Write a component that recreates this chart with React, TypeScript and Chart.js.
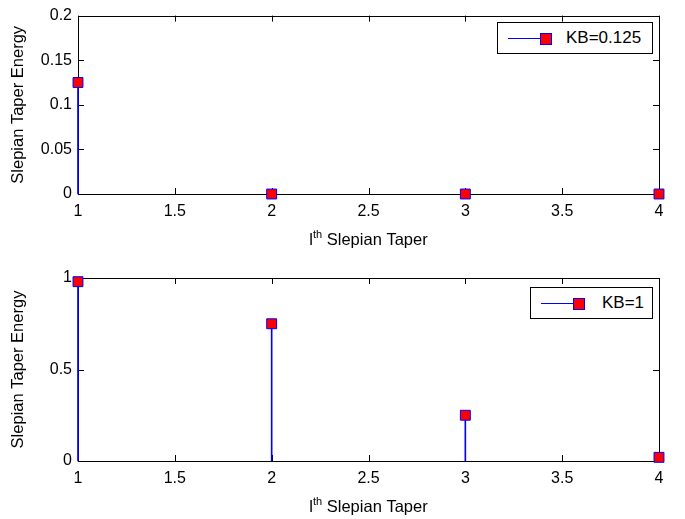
import React, { useEffect, useRef } from 'react';
import { Chart, registerables } from 'chart.js';
Chart.register(...registerables);

const taperIndex = [1, 2, 3, 4];
const energyKB0125 = [0.125, 0, 0, 0];
const energyKB1 = [0.98, 0.75, 0.25, 0.02];
const xTickValues = [1, 1.5, 2, 2.5, 3, 3.5, 4];
const yTicksTop = [0, 0.05, 0.1, 0.15, 0.2];
const yTicksBottom = [0, 0.5, 1];
const legendTop = 'KB=0.125';
const legendBottom = 'KB=1';
const xTitleBase = 'l';
const xTitleSup = 'th';
const xTitleRest = ' Slepian Taper';
const yTitle = 'Slepian Taper Energy';

const FONT = '"Liberation Sans", Arial, sans-serif';
const STEM = '#0000ff';
const FILL = '#ff0000';

const fmt = (v: any) => String(Number(Number(v).toFixed(4)));

const boxTicksPlugin = {
  id: 'boxTicks',
  beforeDatasetsDraw(chart: any) {
    const { ctx, chartArea, scales } = chart;
    const { left, right, top, bottom } = chartArea;
    const L = 6;
    ctx.save();
    ctx.strokeStyle = '#000';
    ctx.lineWidth = 1;
    ctx.beginPath();
    ctx.rect(Math.round(left) + 0.5, Math.round(top) + 0.5, Math.round(right - left), Math.round(bottom - top));
    for (const t of scales.x.ticks) {
      const px = Math.round(scales.x.getPixelForValue(t.value)) + 0.5;
      ctx.moveTo(px, bottom); ctx.lineTo(px, bottom - L);
      ctx.moveTo(px, top); ctx.lineTo(px, top + L);
    }
    for (const t of scales.y.ticks) {
      const py = Math.round(scales.y.getPixelForValue(t.value)) + 0.5;
      ctx.moveTo(left, py); ctx.lineTo(left + L, py);
      ctx.moveTo(right, py); ctx.lineTo(right - L, py);
    }
    ctx.stroke();
    ctx.restore();
  },
  afterDraw(chart: any) {
    const { ctx, chartArea } = chart;
    const { left, right, bottom } = chartArea;
    const big = `16.5px ${FONT}`;
    const small = `11px ${FONT}`;
    ctx.save();
    ctx.fillStyle = '#000';
    ctx.textBaseline = 'alphabetic';
    ctx.textAlign = 'left';
    ctx.font = big;
    const w1 = ctx.measureText(xTitleBase).width;
    const w3 = ctx.measureText(xTitleRest).width;
    ctx.font = small;
    const w2 = ctx.measureText(xTitleSup).width;
    const total = w1 + w2 + w3;
    let x = (left + right) / 2 - total / 2;
    const y = bottom + 51;
    ctx.font = big;
    ctx.fillText(xTitleBase, x, y);
    x += w1;
    ctx.font = small;
    ctx.fillText(xTitleSup, x, y - 7);
    x += w2;
    ctx.font = big;
    ctx.fillText(xTitleRest, x, y);
    ctx.restore();
  },
};

type Props = {
  values: number[];
  yTicks: number[];
  height: number;
  padTop: number;
  axisHeight: number;
  offsetTop: number;
  legend: string;
  legendLeft: number;
  legendTopPx: number;
  legendWidth: number;
  lineLeft: number;
  markerLeft: number;
  textLeft: number;
};

function StemChart(p: Props) {
  const ref = useRef<HTMLCanvasElement | null>(null);
  useEffect(() => {
    if (!ref.current) return;
    const pts = taperIndex.map((x, i) => ({ x, y: p.values[i] }));
    const chart = new Chart(ref.current, {
      type: 'bar',
      data: {
        datasets: [
          {
            type: 'line',
            data: pts,
            showLine: false,
            pointStyle: 'rect',
            pointRadius: 7,
            pointBackgroundColor: FILL,
            pointBorderColor: STEM,
            pointBorderWidth: 1,
            clip: false,
            order: 0,
          } as any,
          {
            type: 'bar',
            data: pts,
            backgroundColor: STEM,
            borderWidth: 0,
            barThickness: 1,
            clip: false,
            order: 1,
          } as any,
        ],
      },
      options: {
        animation: false,
        responsive: false,
        devicePixelRatio: 1,
        events: [],
        layout: { padding: { left: 0, right: 26, top: p.padTop, bottom: 0 } },
        plugins: { legend: { display: false }, tooltip: { enabled: false } },
        scales: {
          x: {
            type: 'linear',
            min: 1,
            max: 4,
            offset: false,
            grid: { display: false, drawTicks: false },
            border: { display: false },
            ticks: { color: '#000', font: { family: FONT, size: 16 }, padding: 8, maxRotation: 0, callback: fmt },
            afterBuildTicks: (s: any) => { s.ticks = xTickValues.map((v) => ({ value: v })); },
            afterFit: (s: any) => { s.height = p.axisHeight; },
          },
          y: {
            type: 'linear',
            min: p.yTicks[0],
            max: p.yTicks[p.yTicks.length - 1],
            grid: { display: false, drawTicks: false },
            border: { display: false },
            ticks: { color: '#000', font: { family: FONT, size: 16 }, padding: 6, callback: fmt },
            afterBuildTicks: (s: any) => { s.ticks = p.yTicks.map((v) => ({ value: v })); },
            afterFit: (s: any) => { s.width = 78; },
            title: { display: true, text: yTitle, color: '#000', font: { family: FONT, size: 16.5 }, padding: { top: 9, bottom: 0 } },
          },
        },
      },
      plugins: [boxTicksPlugin],
    } as any);
    return () => chart.destroy();
  }, []);
  return (
    <div style={{ position: 'absolute', left: 0, top: p.offsetTop, width: 685, height: p.height }}>
      <canvas ref={ref} width={685} height={p.height} style={{ display: 'block' }} />
      <div
        style={{
          position: 'absolute', left: p.legendLeft, top: p.legendTopPx - p.offsetTop, width: p.legendWidth, height: 32,
          boxSizing: 'border-box', border: '1px solid #000', background: '#fff', fontFamily: FONT, fontSize: 17, color: '#000',
        }}
      >
        <div style={{ position: 'absolute', left: p.lineLeft, top: 15, width: 33, height: 1, background: STEM }} />
        <div style={{ position: 'absolute', left: p.markerLeft, top: 10, width: 10, height: 10, background: FILL, border: `1px solid ${STEM}` }} />
        <div style={{ position: 'absolute', left: p.textLeft, top: 5, lineHeight: '20px', whiteSpace: 'nowrap' }}>{p.legend}</div>
      </div>
    </div>
  );
}

export default function App() {
  return (
    <div style={{ position: 'absolute', left: 0, top: 0, width: 685, height: 519, background: '#fff' }}>
      <StemChart values={energyKB0125} yTicks={yTicksTop} height={260} padTop={13} axisHeight={66} offsetTop={0}
        legend={legendTop} legendLeft={497} legendTopPx={22} legendWidth={156} lineLeft={10} markerLeft={42} textLeft={68} />
      <StemChart values={energyKB1} yTicks={yTicksBottom} height={259} padTop={18} axisHeight={58} offsetTop={260}
        legend={legendBottom} legendLeft={530} legendTopPx={287} legendWidth={123} lineLeft={10} markerLeft={42} textLeft={71} />
    </div>
  );
}
